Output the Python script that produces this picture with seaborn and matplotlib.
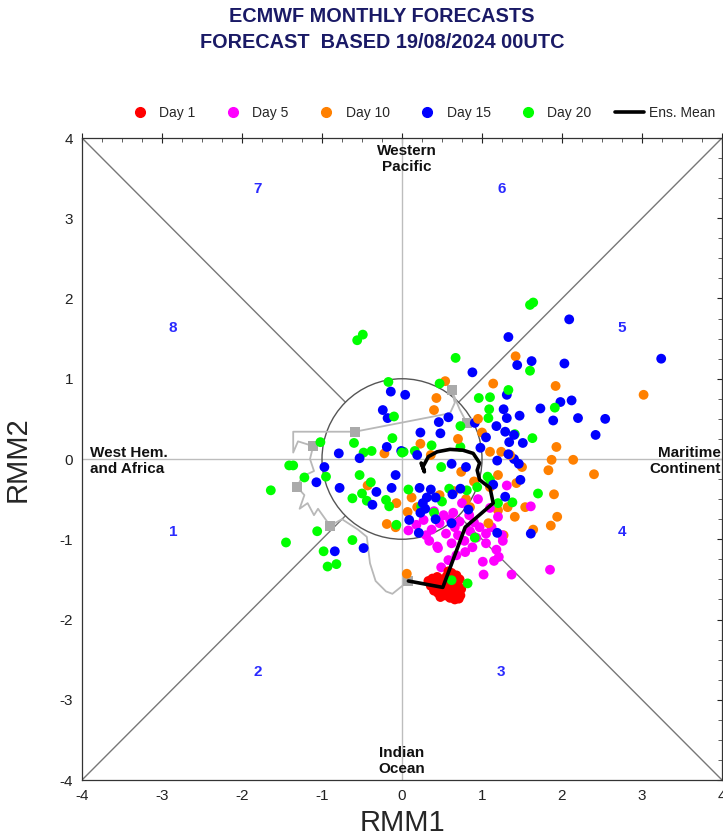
import matplotlib
matplotlib.use("Agg")
import matplotlib.pyplot as plt
from matplotlib.lines import Line2D
from matplotlib.patches import Circle
from matplotlib.ticker import MultipleLocator
import seaborn as sns
import pandas as pd

# ---------------- data ----------------
day1_x = [0.33, 0.38, 0.44, 0.50, 0.56, 0.62, 0.68, 0.72, 0.36, 0.42, 0.47, 0.53, 0.59, 0.65, 0.70, 0.74,
          0.40, 0.45, 0.51, 0.57, 0.63, 0.68, 0.73, 0.48, 0.54, 0.60, 0.66, 0.71, 0.56, 0.64, 0.58, 0.46, 0.69]
day1_y = [-1.52, -1.49, -1.47, -1.50, -1.46, -1.42, -1.45, -1.50, -1.58, -1.55, -1.60, -1.56, -1.53, -1.55, -1.58, -1.62,
          -1.64, -1.67, -1.63, -1.66, -1.62, -1.68, -1.70, -1.72, -1.70, -1.73, -1.75, -1.74, -1.60, -1.48, -1.40, -1.53, -1.63]

day5_x = [0.08, 0.18, 0.27, 0.34, 0.37, 0.44, 0.47, 0.49, 0.45, 0.58, 0.62, 0.64, 0.55, 0.70, 0.72, 0.79, 0.84, 0.90,
          0.97, 1.01, 1.02, 1.10, 1.15, 1.18, 1.21, 1.26, 1.31, 1.37, 1.05, 1.12, 0.93, 0.85, 0.78, 0.66, 0.60, 0.52,
          1.20, 1.25, 1.61, 1.85, 0.95, 0.75, 0.40, 0.30, 0.88, 1.05, 0.68]
day5_y = [-0.89, -0.82, -0.76, -1.02, -0.88, -1.09, -0.80, -1.35, -1.11, -1.26, -1.05, -0.67, -0.93, -0.95, -0.78, -1.16, -0.70, -0.79,
          -0.85, -1.28, -1.44, -0.61, -1.27, -1.13, -1.22, -1.02, -0.33, -1.44, -0.93, -0.85, -0.98, -0.90, -1.02, -0.85, -0.75, -0.70,
          -0.72, -0.95, -0.59, -1.38, -0.50, -0.55, -0.65, -0.95, -1.10, -1.05, -1.20]

day10_x = [3.02, 1.42, 1.92, 1.14, 0.54, 0.43, 0.40, 1.93, 1.87, 1.83, 2.14, 2.40, 1.90, 1.54, 1.41, 1.94, 1.86, 1.64,
           1.27, 1.20, 1.43, 0.23, 0.36, 0.74, 1.00, 1.10, 1.24, -0.22, -0.43, -0.07, 0.07, 0.12, 0.19, 0.47, -0.19,
           -0.08, 0.06, 0.65, 0.80, 0.90, 1.10, 1.20, 1.50, 1.35, 0.95, 0.70, 0.85, 1.32, 1.08]
day10_y = [0.80, 1.28, 0.91, 0.94, 0.97, 0.76, 0.61, 0.15, -0.01, -0.14, -0.01, -0.19, -0.44, -0.60, -0.72, -0.72, -0.83, -0.88,
           -0.95, -0.64, -0.30, 0.19, 0.05, -0.16, 0.33, 0.09, 0.09, 0.07, -0.33, -0.55, -0.66, -0.48, -0.60, -0.45, -0.81,
           -0.85, -1.43, -0.40, -0.50, -0.28, -0.35, -0.20, -0.10, 0.05, 0.50, 0.25, -0.60, -0.60, -0.80]

day15_x = [2.09, 3.24, 1.33, 0.88, 1.44, 1.62, 2.03, -0.14, 0.04, 1.31, 1.98, 2.12, -0.24, -0.18, 1.27, 1.47, 1.31, 1.73,
           1.89, 2.20, 2.54, 2.42, 0.58, 0.46, 0.91, 1.18, 1.29, 1.40, 0.23, 0.48, 1.05, 1.34, 1.51, -0.79, -0.53, -0.19,
           -0.01, 0.19, 0.62, 0.80, 0.98, 1.19, 1.40, 1.46, 1.33, -0.97, -1.07, -0.78, -0.08, -0.13, -0.32, -0.37, 0.22,
           0.36, 0.31, 0.26, 0.42, 0.63, 0.73, 1.14, 1.48, 1.29, 0.09, 0.23, 0.29, 0.42, 0.62, 0.21, 1.19, 1.61, -0.84,
           -0.48, 0.83]
day15_y = [1.74, 1.25, 1.52, 1.08, 1.17, 1.22, 1.19, 0.84, 0.80, 0.80, 0.71, 0.73, 0.61, 0.51, 0.62, 0.54, 0.51, 0.63,
           0.48, 0.51, 0.50, 0.30, 0.52, 0.46, 0.45, 0.41, 0.34, 0.30, 0.33, 0.32, 0.27, 0.21, 0.20, 0.07, 0.01, 0.15,
           0.10, 0.05, -0.06, -0.10, 0.14, -0.02, 0.00, -0.06, 0.06, -0.10, -0.29, -0.36, -0.20, -0.36, -0.41, -0.57, -0.36,
           -0.38, -0.48, -0.55, -0.48, -0.44, -0.37, -0.32, -0.26, -0.47, -0.76, -0.67, -0.62, -0.75, -0.80, -0.92, -0.92, -0.93, -1.15,
           -1.11, -0.63]

day20_x = [1.60, 1.64, -0.56, -0.49, 0.67, 1.60, -0.17, 0.47, 0.96, 1.10, 1.33, 1.09, 1.91, -0.10, 1.08, 0.73, 1.41, 1.63,
           -0.12, -0.60, -0.48, -0.38, 0.02, 0.16, 0.37, 0.73, -1.41, -1.36, -1.22, -0.95, -1.64, -1.45, -1.06, -0.98, -0.93,
           -0.82, -0.62, -0.62, -0.53, -0.50, -0.44, -0.39, -0.20, -0.16, -0.07, 0.08, 0.00, 0.24, 0.40, 0.50, 0.49, 0.59,
           0.81, 0.94, 1.07, 1.10, 1.20, 1.38, 1.70, 0.62, 0.82, 0.91, -1.02]
day20_y = [1.92, 1.95, 1.48, 1.55, 1.26, 1.10, 0.96, 0.94, 0.76, 0.77, 0.86, 0.62, 0.64, 0.53, 0.51, 0.41, 0.31, 0.26,
           0.26, 0.20, 0.08, 0.10, 0.09, 0.10, 0.17, 0.15, -0.08, -0.08, -0.23, -0.22, -0.39, -1.04, -0.90, -1.15, -1.34,
           -1.31, -1.01, -0.49, -0.20, -0.43, -0.52, -0.29, -0.51, -0.59, -0.82, -0.38, 0.08, -0.59, -0.67, -0.53, -0.10, -0.37,
           -0.39, -0.35, -0.22, -0.26, -0.55, -0.54, -0.43, -1.51, -1.55, -0.98, 0.21]

# ensemble mean trajectory
mean_x = [0.08, 0.51, 0.79, 1.14, 1.10, 0.97, 0.94, 0.97, 0.89, 0.76, 0.60, 0.44, 0.33, 0.26, 0.28, 0.24, 0.27]
mean_y = [-1.52, -1.60, -0.85, -0.55, -0.36, -0.26, -0.14, -0.05, 0.07, 0.11, 0.12, 0.09, 0.03, -0.10, -0.16, -0.05, -0.12]

# observed (analysis) trajectory, grey
obs_x = [0.81, 0.72, 0.62, 0.66, 0.60, -0.59, -1.36, -1.36, -1.30, -1.11, -1.15, -1.10, -1.25, -1.31, -1.22, -1.28,
         -1.18, -1.10, -1.05, -0.90, -0.75, -0.55, -0.44, -0.40, -0.33, -0.20, -0.12, 0.08]
obs_y = [0.45, 0.62, 0.86, 0.70, 0.57, 0.34, 0.34, 0.08, 0.22, 0.16, 0.00, -0.15, -0.22, -0.35, -0.45, -0.62,
         -0.55, -0.70, -0.62, -0.83, -0.75, -0.88, -0.97, -1.30, -1.52, -1.65, -1.68, -1.52]
obs_sq_x = [0.81, 0.62, -0.59, -1.11, -1.31, -0.90, 0.08]
obs_sq_y = [0.45, 0.86, 0.34, 0.16, -0.35, -0.83, -1.52]

day_labels = ["Day 1", "Day 5", "Day 10", "Day 15", "Day 20"]
day_colors = ["#ff0000", "#ff00ff", "#ff8000", "#0000ff", "#00ff00"]
phase_labels = ["1", "2", "3", "4", "5", "6", "7", "8"]
ticks = [-4, -3, -2, -1, 0, 1, 2, 3, 4]

# ---------------- build table ----------------
rows = []
for lab, xs, ys in zip(day_labels, [day1_x, day5_x, day10_x, day15_x, day20_x],
                       [day1_y, day5_y, day10_y, day15_y, day20_y]):
    for i, (x, y) in enumerate(zip(xs, ys)):
        rows.append({"RMM1": x, "RMM2": y, "day": lab, "member": i, "dorder": day_labels.index(lab)})
df = pd.DataFrame(rows).sort_values(["member", "dorder"]).reset_index(drop=True)

# ---------------- figure ----------------
sns.set_style("white")
plt.rcParams["font.family"] = ["Liberation Sans", "DejaVu Sans"]

fig = plt.figure(figsize=(7.23, 8.38), dpi=100)
ax = fig.add_axes([82 / 723, 58 / 838, 640 / 723, 642 / 838])
ax.set_xlim(-4, 4)
ax.set_ylim(-4, 4)

# background structure
ax.axhline(0, color="#bdbdbd", lw=1.0, zorder=1)
ax.axvline(0, color="#bdbdbd", lw=1.0, zorder=1)
r = 0.7071
for sx, sy in [(1, 1), (1, -1), (-1, 1), (-1, -1)]:
    ax.plot([sx * r, sx * 4], [sy * r, sy * 4], color="#777777", lw=1.0, zorder=1)
ax.add_patch(Circle((0, 0), 1, fill=False, ec="#555555", lw=1.0, zorder=1))

# observed trajectory
ax.plot(obs_x, obs_y, color="#b8b8b8", lw=1.3, zorder=2)
ax.scatter(obs_sq_x, obs_sq_y, marker="s", s=45, color="#aaaaaa", zorder=2, linewidths=0)

# ensemble members
sns.scatterplot(data=df, x="RMM1", y="RMM2", hue="day", palette=dict(zip(day_labels, day_colors)),
                s=50, linewidth=0, legend=False, ax=ax, zorder=3)

# ensemble mean
ax.plot(mean_x, mean_y, color="black", lw=2.6, zorder=4, solid_capstyle="round", solid_joinstyle="round")

# phase numbers
phase_pos = [(-2.86, -0.91), (-1.80, -2.65), (1.24, -2.65), (2.75, -0.91),
             (2.75, 1.63), (1.24, 3.37), (-1.80, 3.37), (-2.86, 1.63)]
for lab, (px, py) in zip(phase_labels, phase_pos):
    ax.text(px, py, lab, color="#2a2aff", fontsize=11, fontweight="bold", ha="center", va="center", zorder=5)

# region labels
rk = dict(fontsize=11, fontweight="bold", color="#111111", linespacing=1.2, zorder=5)
ax.text(0.06, 3.93, "Western\nPacific", ha="center", va="top", **rk)
ax.text(0.0, -3.58, "Indian\nOcean", ha="center", va="top", **rk)
ax.text(-3.9, -0.02, "West Hem.\nand Africa", ha="left", va="center", **rk)
ax.text(3.98, -0.02, "Maritime\nContinent", ha="right", va="center", **rk)

# axes cosmetics
ax.set_xticks(ticks)
ax.set_yticks(ticks)
ax.set_xticklabels([str(t) for t in ticks])
ax.set_yticklabels([str(t) for t in ticks])
ax.xaxis.set_minor_locator(MultipleLocator(0.25))
ax.yaxis.set_minor_locator(MultipleLocator(0.25))
ax.tick_params(which="major", direction="inout", length=7, width=0.8, labelsize=11, colors="#222222",
               top=True, right=True, pad=3)
ax.tick_params(which="minor", direction="in", length=3, width=0.6, colors="#444444", top=True, right=True)
for sp in ax.spines.values():
    sp.set_color("#333333")
    sp.set_linewidth(0.9)
ax.set_xlabel("RMM1", fontsize=21, labelpad=4)
ax.set_ylabel("RMM2", fontsize=21, labelpad=20)

# legend
handles = [Line2D([], [], marker="o", ls="", color=c, markersize=7) for c in day_colors]
handles.append(Line2D([], [], color="black", lw=2.6))
fig.legend(handles, day_labels + ["Ens. Mean"], loc="center", bbox_to_anchor=(420 / 723, 1 - 113 / 838),
           ncol=6, frameon=False, fontsize=10,
           handlelength=2.1, handletextpad=0.35, columnspacing=1.65)

# title
tk = dict(ha="center", va="center", fontsize=14.3, fontweight="bold", color="#1a1a66")
fig.text(382 / 723, 1 - 17 / 838, "ECMWF MONTHLY FORECASTS", **tk)
fig.text(382 / 723, 1 - 42 / 838, "FORECAST  BASED 19/08/2024 00UTC", **tk)

fig.savefig("out.png", dpi=100)
